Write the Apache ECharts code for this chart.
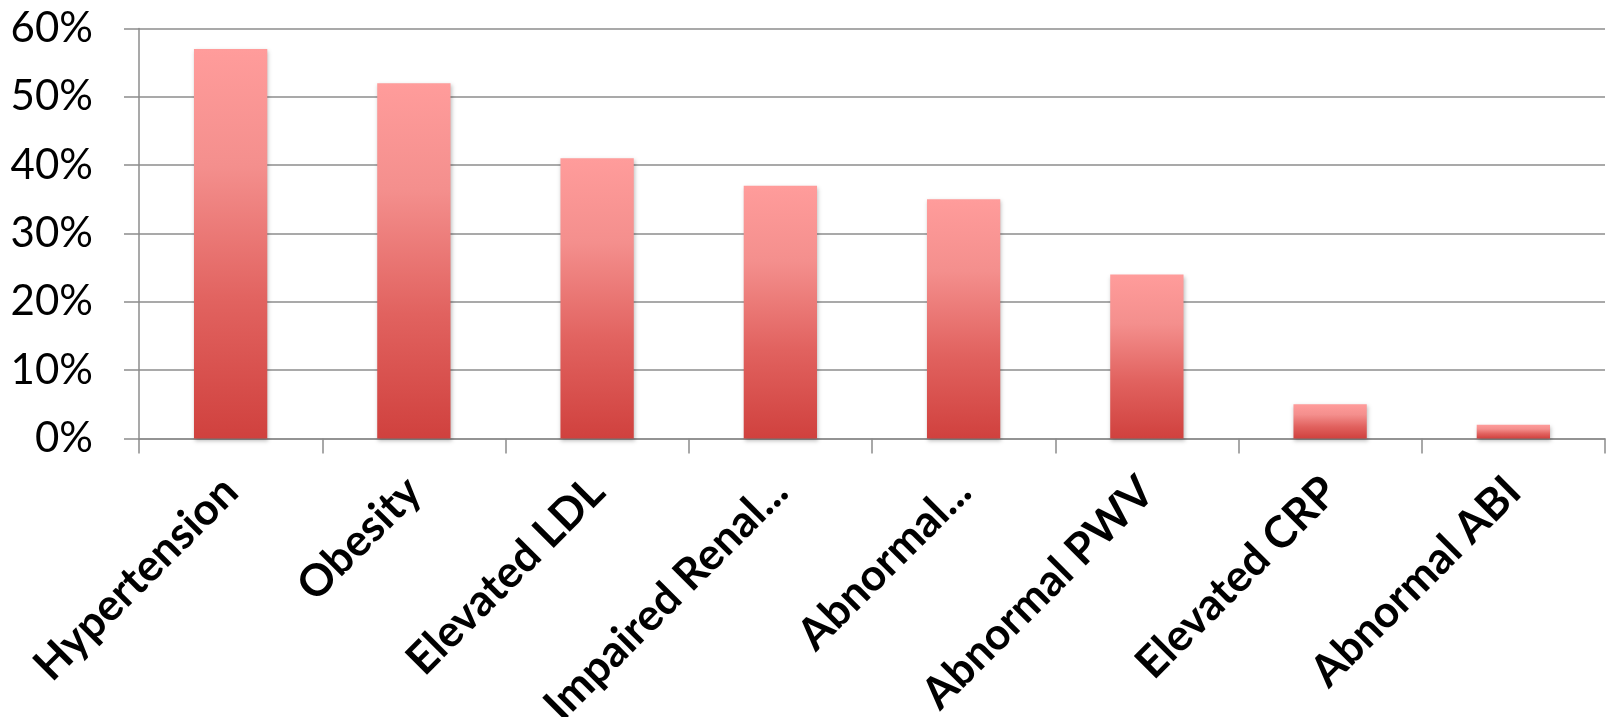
<!DOCTYPE html>
<html>
<head>
<meta charset="utf-8">
<script src="https://cdn.jsdelivr.net/npm/echarts@6/dist/echarts.min.js"></script>
<style>
  html, body { margin: 0; padding: 0; background: #fff; }
  #chart { width: 1606px; height: 717px; }
</style>
</head>
<body>
<div id="chart"></div>
<script>
// Risk factor prevalence
const categories = ['Hypertension', 'Obesity', 'Elevated LDL', 'Impaired Renal...', 'Abnormal...', 'Abnormal PWV', 'Elevated CRP', 'Abnormal ABI'];
const prevalence = [57, 52, 41, 37, 35, 24, 5, 2];
const yTicks = { min: 0, max: 60, interval: 10 };

const chart = echarts.init(document.getElementById('chart'));
const gray = '#8c8c8c';

chart.setOption({
  animation: false,
  grid: { left: 139, right: 1, top: 28.5, bottom: 278.5, containLabel: false, outerBoundsMode: 'none' },
  xAxis: {
    type: 'category',
    data: categories,
    axisLine: { lineStyle: { color: gray, width: 1.5 } },
    axisTick: { show: true, length: 15, lineStyle: { color: gray, width: 1.5 } },
    axisLabel: {
      rotate: 45,
      interval: 0,
      margin: 46,
      color: '#000',
      fontFamily: 'Lato',
      fontWeight: 'bold',
      fontSize: 44
    }
  },
  yAxis: {
    type: 'value',
    min: yTicks.min,
    max: yTicks.max,
    interval: yTicks.interval,
    axisLine: { show: true, lineStyle: { color: gray, width: 1.5 } },
    axisTick: { show: true, length: 15, lineStyle: { color: gray, width: 1.5 } },
    splitLine: { lineStyle: { color: gray, width: 1.5 } },
    axisLabel: {
      margin: 46,
      color: '#000',
      fontFamily: 'Lato',
      fontSize: 42,
      formatter: v => v + '%'
    }
  },
  series: [{
    type: 'bar',
    data: prevalence,
    barWidth: '40%',
    itemStyle: {
      color: new echarts.graphic.LinearGradient(0, 0, 0, 1, [
        { offset: 0, color: '#ff9c9b' },
        { offset: 0.3, color: '#f48f8d' },
        { offset: 0.65, color: '#e1625f' },
        { offset: 1, color: '#d0413e' }
      ]),
      shadowColor: 'rgba(0,0,0,0.25)',
      shadowBlur: 4,
      shadowOffsetX: 1,
      shadowOffsetY: 2
    }
  }]
});
</script>
</body>
</html>
